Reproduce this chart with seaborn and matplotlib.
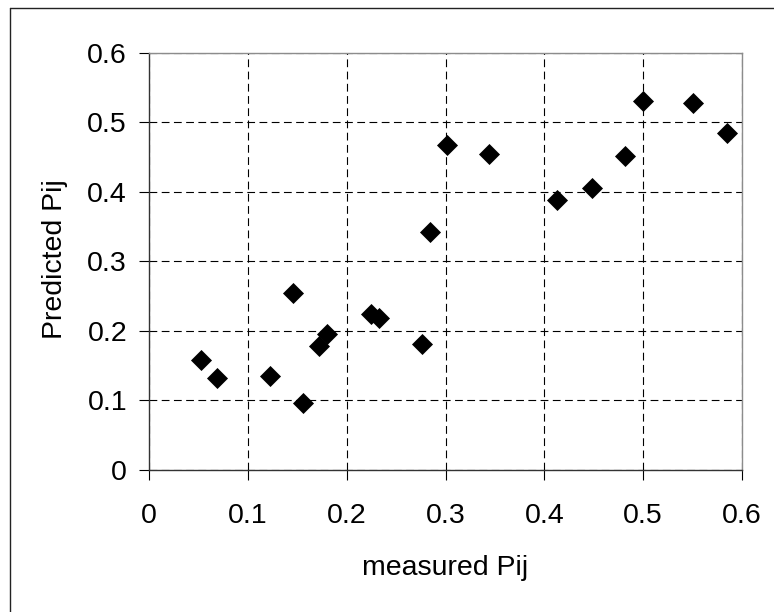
import numpy as np
import pandas as pd
import matplotlib
matplotlib.use('Agg')
import matplotlib.pyplot as plt
import seaborn as sns
from matplotlib.lines import Line2D

# 数据
measured = [0.052, 0.069, 0.122, 0.146, 0.156, 0.172, 0.180, 0.225, 0.233,
            0.276, 0.284, 0.302, 0.344, 0.413, 0.448, 0.482, 0.500, 0.551, 0.585]
predicted = [0.158, 0.132, 0.135, 0.255, 0.097, 0.178, 0.196, 0.224, 0.218,
             0.181, 0.342, 0.468, 0.454, 0.388, 0.405, 0.451, 0.531, 0.528, 0.485]
ticks = [0, 0.1, 0.2, 0.3, 0.4, 0.5, 0.6]
tick_labels = ['0', '0.1', '0.2', '0.3', '0.4', '0.5', '0.6']

df = pd.DataFrame({'measured Pij': measured, 'Predicted Pij': predicted})

sns.set_theme(style='white')
plt.rcParams['font.family'] = ['Liberation Sans', 'DejaVu Sans']

fig = plt.figure(figsize=(7.74, 6.12), dpi=100)
ax = fig.add_axes([0.1929, 0.232, 0.7654, 0.6819])

sns.scatterplot(data=df, x='measured Pij', y='Predicted Pij', marker='D',
                s=115, color='black', linewidth=0, ax=ax, zorder=3)

ax.set_xlim(0, 0.6)
ax.set_ylim(0, 0.6)
ax.set_xticks(ticks)
ax.set_xticklabels(tick_labels)
ax.set_yticks(ticks)
ax.set_yticklabels(tick_labels)
ax.grid(True, color='black', linestyle=(0, (7, 4)), linewidth=0.8)
ax.set_axisbelow(True)

fs = 20.5
ax.tick_params(axis='both', direction='out', length=7, width=0.8, color='black',
               labelsize=fs, labelcolor='black')
ax.tick_params(axis='x', pad=17)
ax.tick_params(axis='y', pad=9)
ax.tick_params(left=True, bottom=True)

for side in ['left', 'bottom']:
    ax.spines[side].set_color('#333333')
    ax.spines[side].set_linewidth(1.0)
for side in ['top', 'right']:
    ax.spines[side].set_color('#8c8c8c')
    ax.spines[side].set_linewidth(1.0)

ax.set_xlabel('measured Pij', fontsize=fs, color='black')
ax.set_ylabel('Predicted Pij', fontsize=fs, color='black')
ax.xaxis.label.set_va('center')
ax.yaxis.label.set_va('center')
ax.xaxis.set_label_coords(0.5, -0.235)
ax.yaxis.set_label_coords(-0.159, 0.506)

# 外框（只露出左边和上边）
fig.add_artist(Line2D([10 / 774, 10 / 774], [0, 1 - 8 / 612], color='#222222', linewidth=1.0))
fig.add_artist(Line2D([10 / 774, 1], [1 - 8 / 612, 1 - 8 / 612], color='#222222', linewidth=1.0))

fig.savefig('out.png', dpi=100)
